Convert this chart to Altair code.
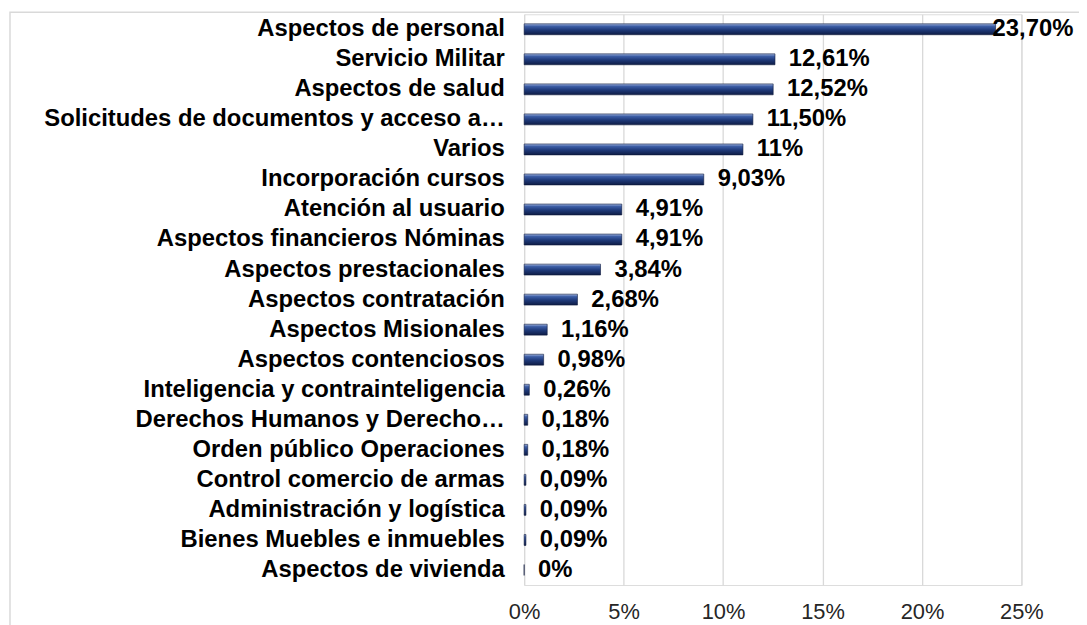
import altair as alt
import pandas as pd

categories = [
    "Aspectos de personal",
    "Servicio Militar",
    "Aspectos de salud",
    "Solicitudes de documentos y acceso a…",
    "Varios",
    "Incorporación cursos",
    "Atención al usuario",
    "Aspectos financieros Nóminas",
    "Aspectos prestacionales",
    "Aspectos contratación",
    "Aspectos Misionales",
    "Aspectos contenciosos",
    "Inteligencia y contrainteligencia",
    "Derechos Humanos y Derecho…",
    "Orden público Operaciones",
    "Control comercio de armas",
    "Administración y logística",
    "Bienes Muebles e inmuebles",
    "Aspectos de vivienda",
]
values = [23.70, 12.61, 12.52, 11.50, 11.0, 9.03, 4.91, 4.91, 3.84, 2.68,
          1.16, 0.98, 0.26, 0.18, 0.18, 0.09, 0.09, 0.09, 0.0]
value_labels = ["23,70%", "12,61%", "12,52%", "11,50%", "11%", "9,03%", "4,91%",
                "4,91%", "3,84%", "2,68%", "1,16%", "0,98%", "0,26%", "0,18%",
                "0,18%", "0,09%", "0,09%", "0,09%", "0%"]
tick_values = [0, 5, 10, 15, 20, 25]

df = pd.DataFrame({"cat": categories, "pct": values, "lab": value_labels})

FONT = "Liberation Sans"

x_scale = alt.Scale(domain=[0, 25], nice=False, zero=True)
y_enc = alt.Y("cat:N", sort=categories,
              scale=alt.Scale(paddingOuter=0, paddingInner=0),
              axis=alt.Axis(title=None, domain=False, ticks=False, labelPadding=20,
                            labelFont=FONT, labelFontSize=24, labelFontWeight="bold",
                            labelColor="#000000", labelLimit=600, grid=False))

base = alt.Chart(df)

bars = base.mark_bar(
    size=11,
    stroke="#0d1a3d",
    strokeWidth=0.6,
    color=alt.Gradient(
        gradient="linear",
        stops=[
            alt.GradientStop(color="#a3b6e0", offset=0),
            alt.GradientStop(color="#3d5ea6", offset=0.22),
            alt.GradientStop(color="#1f3a7a", offset=0.55),
            alt.GradientStop(color="#0e1c45", offset=1),
        ],
        x1=0, x2=0, y1=0, y2=1,
    ),
).encode(
    x=alt.X("pct:Q", scale=x_scale,
            axis=alt.Axis(title=None, values=tick_values, domain=False, ticks=False,
                          labelExpr="datum.value + '%'", labelPadding=17,
                          labelFlush=False,
                          labelFont=FONT, labelFontSize=22, labelColor="#262626",
                          gridColor="#d9d9d9", gridWidth=1.3)),
    y=y_enc,
)

texts = base.transform_calculate(
    lx="min(datum.pct, 22.85)"
).mark_text(
    align="left", baseline="middle", dx=14, font=FONT, fontSize=24,
    fontWeight="bold", color="#000000"
).encode(
    x=alt.X("lx:Q", scale=x_scale),
    y=alt.Y("cat:N", sort=categories),
    text="lab:N",
)

frame = alt.Chart(pd.DataFrame({"f": [0]})).mark_rect(
    filled=False, stroke="#d9d9d9", strokeWidth=1.5
).encode(
    x=alt.value(-518), x2=alt.value(700), y=alt.value(-2), y2=alt.value(800)
)

chart = alt.layer(frame, bars, texts).properties(
    width=501, height=575,
    autosize=alt.AutoSizeParams(type="none"),
    padding={"left": 520, "top": 4, "right": 58, "bottom": 38},
).configure_view(stroke=None).configure(background="#ffffff")

chart.save("out.html", embed_options={"renderer": "svg", "actions": False})
